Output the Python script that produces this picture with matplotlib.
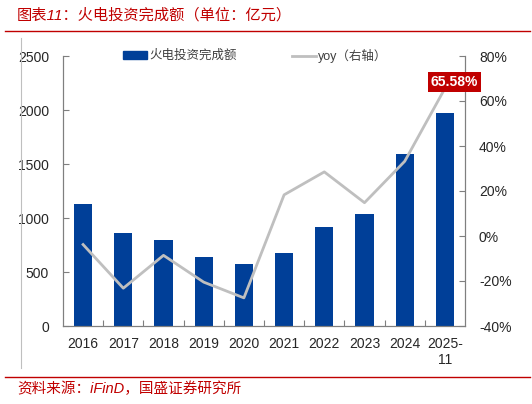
import matplotlib
matplotlib.use("Agg")
from matplotlib import pyplot as plt
from matplotlib.lines import Line2D

plt.rcParams['font.family'] = ['Liberation Sans', 'Noto Sans CJK SC', 'DejaVu Sans']

# data
years = ['2016', '2017', '2018', '2019', '2020', '2021', '2022', '2023', '2024', '2025-\n11']
invest = [1127, 864, 794, 636, 577, 679, 914, 1034, 1593, 1972]   # 亿元
yoy = [-3.8, -23.2, -8.6, -20.5, -27.5, 18.3, 28.5, 14.8, 33.2, 65.58]  # %

left_ticks = [0, 500, 1000, 1500, 2000, 2500]
right_ticks = [-40, -20, 0, 20, 40, 60, 80]

red = '#C00000'
blue = '#003F98'
gray_line = '#BFBFBF'
spine_c = '#7F7F7F'

fig = plt.figure(figsize=(5.32, 4.04), dpi=100)
ax = fig.add_axes([63/532, 1-326/404, (465-63)/532, (326-56)/404])
ax2 = ax.twinx()

x = list(range(len(years)))
ax.bar(x, invest, width=0.45, color=blue, zorder=2)
ax2.plot(x, yoy, color=gray_line, lw=2, zorder=3)

ax.set_xlim(-0.5, len(years)-0.5)
ax.set_ylim(0, 2500)
ax2.set_ylim(-40, 80)
ax.set_yticks(left_ticks)
ax.set_yticklabels([str(v) for v in left_ticks])
ax2.set_yticks(right_ticks)
ax2.set_yticklabels([f'{v}%' for v in right_ticks])

ax.set_xticks(x)
ax.set_xticklabels(years)
ax.set_xticks([i + 0.5 for i in x[:-1]], minor=True)
ax.tick_params(axis='x', which='major', length=0, pad=8, labelsize=10, colors='#262626')
ax.tick_params(axis='x', which='minor', direction='in', length=4, color=spine_c, width=0.8)
ax.tick_params(axis='y', direction='in', length=4, color=spine_c, width=0.8, pad=10,
               labelsize=10, labelcolor='#262626')
ax2.tick_params(axis='y', direction='in', length=4, color=spine_c, width=0.8, pad=10,
                labelsize=10, labelcolor='#262626')

for a in (ax, ax2):
    a.spines['top'].set_visible(False)
    for s in ('left', 'right', 'bottom'):
        a.spines[s].set_color(spine_c)
        a.spines[s].set_linewidth(0.8)

# label on last yoy point
ax2.annotate(f'{yoy[-1]:.2f}%', xy=(x[-1], yoy[-1]), xytext=(7, 4.5), textcoords='offset points',
             ha='center', va='center', color='white', fontsize=10, fontweight='bold',
             bbox=dict(boxstyle='square,pad=0.2', fc=red, ec='none'), zorder=5)

# legends
h1 = plt.Rectangle((0, 0), 1, 1, color=blue)
leg1 = fig.legend([h1], ['火电投资完成额'], loc='center left', bbox_to_anchor=(112/532, 1-56/404),
                  frameon=False, fontsize=9, handlelength=1.9, handleheight=0.6, handletextpad=0.15)
h2 = Line2D([], [], color=gray_line, lw=2)
leg2 = fig.legend([h2], ['yoy（右轴）'], loc='center left', bbox_to_anchor=(281/532, 1-56/404),
                  frameon=False, fontsize=9, handlelength=1.9, handletextpad=0.15)
for t in leg1.get_texts() + leg2.get_texts():
    t.set_color('#404040')

# frame decorations
fig.text(17/532, 1-15/404, '图表11：火电投资完成额（单位：亿元）', color=red, fontsize=11,
         style='italic', va='center', ha='left')
fig.add_artist(Line2D([5/532, 530/532], [1-30.5/404, 1-30.5/404], color=red, lw=1))
fig.add_artist(Line2D([21/532, 21/532], [1-38/404, 1-368/404], color='#BFBFBF', lw=0.8))
fig.add_artist(Line2D([5/532, 530/532], [1-377/404, 1-377/404], color=red, lw=1))
fig.text(17/532, 1-389/404, '资料来源：iFinD，国盛证券研究所', color=red, fontsize=10.5,
         style='italic', va='center', ha='left')

fig.savefig('out.png', dpi=100)
